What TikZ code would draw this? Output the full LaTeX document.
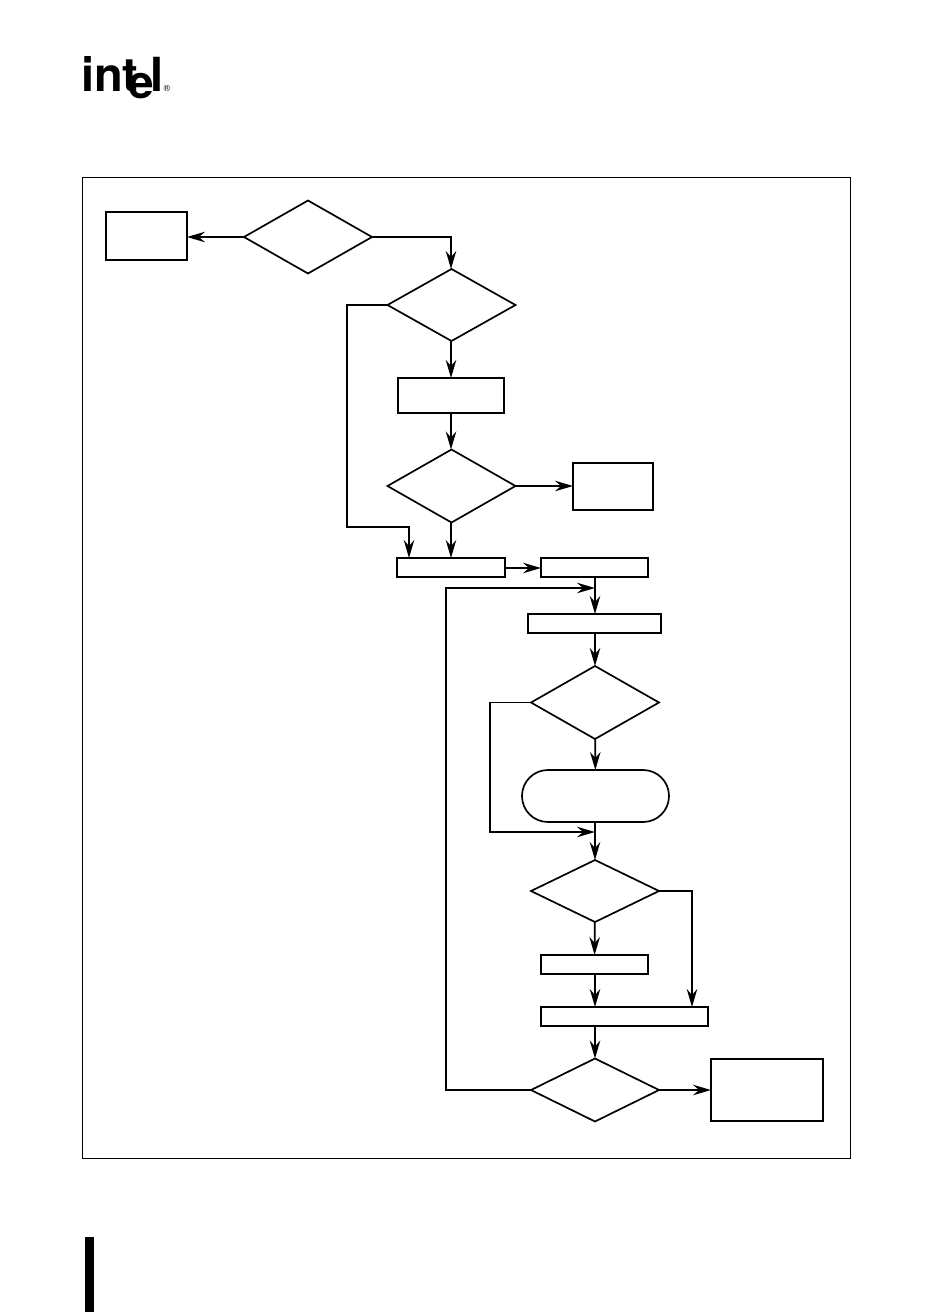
\documentclass[tikz,border=0pt]{standalone}
\usepackage{fontspec}
\setmainfont{TeX Gyre Heros}
\usetikzlibrary{arrows.meta,shapes.geometric}
\begin{document}
\begin{tikzpicture}[x=1pt,y=-1pt,line width=1.7pt,
  box/.style={draw,rectangle,outer sep=0pt,inner sep=0pt},
  dec/.style={draw,diamond,outer sep=0pt,inner sep=0pt,minimum width=128pt},
  arr/.style={-{Stealth[length=18pt,width=10.5pt,inset=6pt]}},
  logo/.style={inner sep=0pt,outer sep=0pt,anchor=base west,font=\fontsize{47}{47}\bfseries}]
\useasboundingbox (0,0) rectangle (936,1312);
% page
\node[logo] (lint) at (81,91.5) {int\kern-10.4pt\raisebox{-6.5pt}{\fontsize{46}{46}\selectfont e}\kern-3.1pt l};
\node[inner sep=0pt,font=\fontsize{9}{9}\selectfont] (lr) at (167,88.5) {®};
\node[fill,inner sep=0pt,outer sep=0pt,minimum width=9pt,minimum height=75pt] (bar) at (89.5,1274.5) {};
\node[box,line width=1pt,minimum width=768pt,minimum height=981pt] (frame) at (466,667.5) {};
% boxes
\node[box,minimum width=81pt,minimum height=48pt] (a) at (146.5,236) {};
\node[box,minimum width=106pt,minimum height=35pt] (b) at (451,395.5) {};
\node[box,minimum width=80pt,minimum height=47pt] (c) at (613,486.5) {};
\node[box,minimum width=108pt,minimum height=19pt] (e) at (451,567.5) {};
\node[box,minimum width=107pt,minimum height=19pt] (f) at (594.5,567.5) {};
\node[box,minimum width=133pt,minimum height=19pt] (g) at (594.5,623.5) {};
\node[box,rounded corners=25.9pt,minimum width=147pt,minimum height=52pt] (r) at (595.5,796) {};
\node[box,minimum width=107pt,minimum height=19pt] (h) at (594.5,964.5) {};
\node[box,minimum width=167pt,minimum height=19pt] (i) at (624.5,1016.5) {};
\node[box,minimum width=112pt,minimum height=62pt] (j) at (767,1090) {};
% decisions
\node[dec,minimum height=73pt] (d1) at (308,237) {};
\node[dec,minimum height=72pt] (d2) at (451.5,305) {};
\node[dec,minimum height=73pt] (d3) at (451.5,486) {};
\node[dec,minimum height=73pt] (d4) at (595,702.5) {};
\node[dec,minimum height=62pt] (d5) at (595,891) {};
\node[dec,minimum height=63pt] (d6) at (595,1090) {};
% junctions
\coordinate (fg) at (595,588);
\coordinate (rd) at (595,832);
\coordinate (ein) at (409,558);
\coordinate (eout) at (451,0);
\coordinate (ef) at (541,568);
\coordinate (iin) at (692,1007);
\foreach \u/\v in {d4/r,d5/h,d6/j}
  \draw[arr] (\u)--(\v);
\draw[arr] (d1.west) -- (d1.west -| a.east);
\draw[arr] (d1.east) -| (eout |- d2.north);
\draw[arr] (d2.west) -- (347,305) |- (409,527) -- (ein);
\draw[arr] (eout |- d2.south) -- (eout |- b.north);
\draw[arr] (eout |- b.south) -- (eout |- d3.north);
\draw[arr] (d3.east) -- (d3.east -| c.west);
\draw[arr] (eout |- d3.south) -- (eout |- e.north);
\draw[arr] (e.east |- ef) -- (ef);
\draw[arr] (f.south -| fg) -- (g.north -| fg);
\draw[arr] (g.south -| d4) -- (d4.north);
\draw[arr] (d6.west) -- (446,1090) |- (fg);
\draw[arr] (d4.west) -- (490,702.5) |- (rd);
\draw[arr] (r.south -| rd) -- (d5.north);
\draw[arr] (d5.east) -- (692,891) -- (iin);
\draw[arr] (h.south -| d5) -- (i.north -| d5);
\draw[arr] (i.south -| d6) -- (d6.north);
\end{tikzpicture}
\end{document}
